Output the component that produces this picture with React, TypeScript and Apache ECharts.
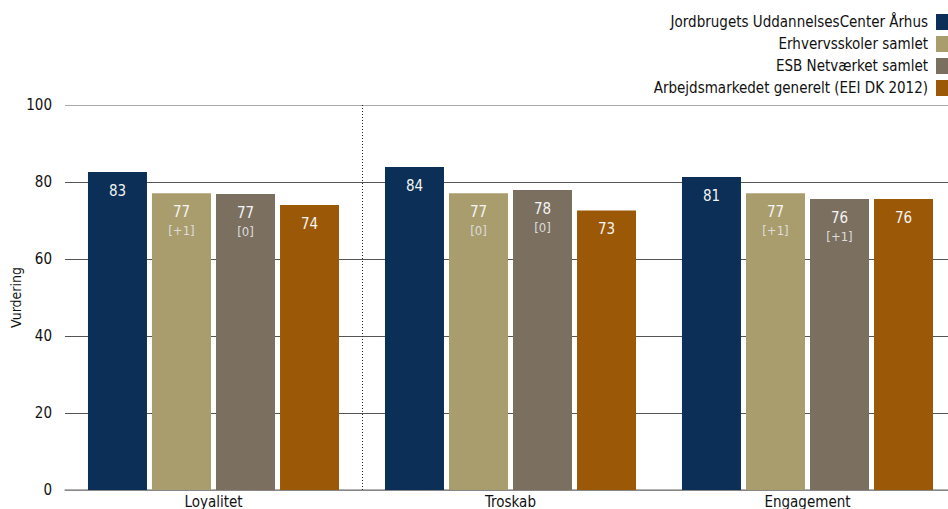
import React, { useEffect, useRef } from "react";
import * as echarts from "echarts";

const categories = ["Loyalitet", "Troskab", "Engagement"];
const seriesNames = [
  "Jordbrugets UddannelsesCenter Århus",
  "Erhvervsskoler samlet",
  "ESB Netværket samlet",
  "Arbejdsmarkedet generelt (EEI DK 2012)",
];
const colors = ["#0b2f56", "#aa9d6d", "#7b6f60", "#9b5806"];
const valuesJUC = [82.6, 83.9, 81.3];
const valuesErhverv = [77.1, 77.1, 77.1];
const valuesESB = [76.9, 77.9, 75.6];
const valuesEEI = [74.0, 72.6, 75.6];
const labelsJUC = ["83", "84", "81"];
const labelsErhverv = ["77", "77", "77"];
const labelsESB = ["77", "78", "76"];
const labelsEEI = ["74", "73", "76"];
const deltasErhverv = ["[+1]", "[0]", "[+1]"];
const deltasESB = ["[0]", "[0]", "[+1]"];
const separatorAfter = [1]; // dotted divider after the first category
const yAxisName = "Vurdering";

const FONT = "'DejaVu Sans Condensed', 'DejaVu Sans', sans-serif";

export default function App() {
  const ref = useRef<HTMLDivElement>(null);
  useEffect(() => {
    if (!ref.current) return;
    const chart = echarts.init(ref.current, undefined, { renderer: "svg" });
    const values = [valuesJUC, valuesErhverv, valuesESB, valuesEEI];
    const labels = [labelsJUC, labelsErhverv, labelsESB, labelsEEI];
    const deltas: (string[] | null)[] = [null, deltasErhverv, deltasESB, null];
    const series: any[] = seriesNames.map((name, si) => ({
      name,
      type: "bar",
      barWidth: 59,
      barGap: "8.5%",
      itemStyle: { color: colors[si] },
      label: {
        show: true,
        position: "insideTop",
        distance: 9,
        formatter: (p: any) => {
          const d = deltas[si];
          const v = labels[si][p.dataIndex];
          return d ? `{v|${v}}\n{d|${d[p.dataIndex]}}` : `{v|${v}}`;
        },
        rich: {
          v: { color: "#f4f4f4", fontSize: 15, fontFamily: FONT, lineHeight: 20 },
          d: { color: "#dcdcdc", fontSize: 13, fontFamily: FONT, lineHeight: 17 },
        },
      },
      data: values[si],
    }));
    series.push({
      name: "separator",
      type: "scatter",
      xAxisIndex: 1,
      symbolSize: 0,
      silent: true,
      data: [],
      markLine: {
        silent: true,
        symbol: "none",
        label: { show: false },
        lineStyle: { color: "#222", type: [1, 2], width: 1 },
        data: separatorAfter.map((x) => ({ xAxis: x })),
      },
    });
    chart.setOption({
      animation: false,
      textStyle: { fontFamily: FONT },
      legend: {
        orient: "vertical",
        right: 0,
        top: 14,
        padding: 0,
        align: "right",
        itemWidth: 12,
        itemHeight: 16,
        itemGap: 6,
        icon: "rect",
        selectedMode: false,
        textStyle: { fontSize: 15, color: "#111", fontFamily: FONT, padding: [0, 3, 0, 0] },
        data: seriesNames,
      },
      grid: { left: 65, right: -8, top: 105, bottom: 19, containLabel: false, outerBoundsMode: "none" },
      xAxis: [
        {
          type: "category",
          data: categories,
          axisLine: { show: true, lineStyle: { color: "#999", width: 1.5 } },
          axisTick: { show: false },
          axisLabel: { fontSize: 15, color: "#111", margin: 4, fontFamily: FONT },
          splitLine: { show: false },
        },
        { type: "value", min: 0, max: 3, show: false },
      ],
      yAxis: {
        type: "value",
        min: 0,
        max: 100,
        interval: 20,
        name: yAxisName,
        nameLocation: "middle",
        nameGap: 42,
        nameMoveOverlap: false,
        nameTextStyle: { fontSize: 14, color: "#111", fontFamily: FONT },
        axisLine: { show: false },
        axisTick: { show: false },
        axisLabel: { fontSize: 15, color: "#111", margin: 13, fontFamily: FONT },
        splitLine: {
          show: true,
          lineStyle: {
            color: ["#555", "#555", "#555", "#555", "#555", "#aaa"],
            width: 1,
          },
        },
      },
      series,
    });
    return () => chart.dispose();
  }, []);
  return <div ref={ref} style={{ width: 948, height: 509, position: "absolute", left: 0, top: 0 }} />;
}
